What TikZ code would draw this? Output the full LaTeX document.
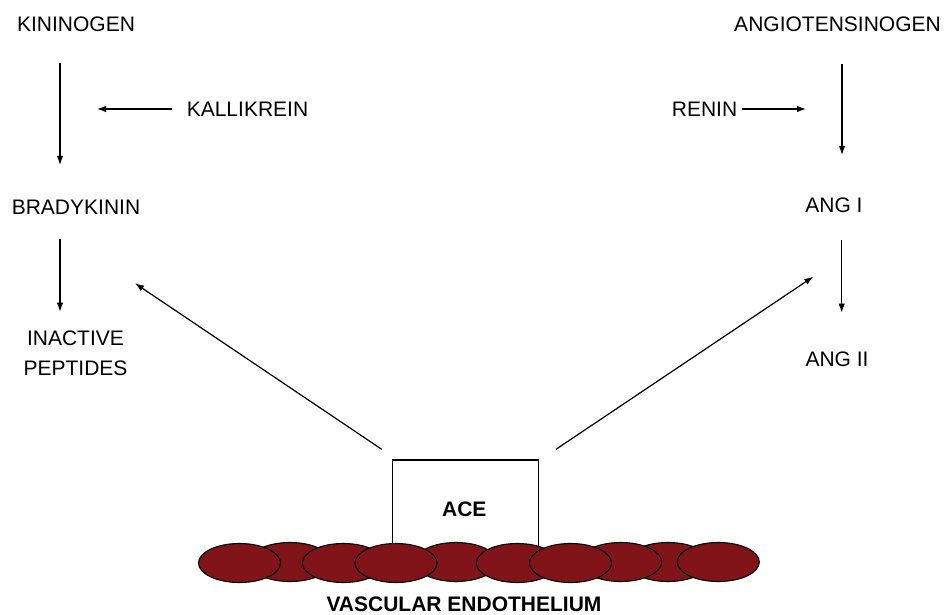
\documentclass[tikz,border=0pt]{standalone}
\usepackage{fontspec}
\setmainfont{Liberation Sans}
\usetikzlibrary{arrows.meta,shapes.geometric}
\definecolor{cellred}{RGB}{128,20,24}
\begin{document}
\begin{tikzpicture}[x=1pt,y=-1pt,
  lbl/.style={anchor=base,inner sep=0pt,font=\fontsize{21}{24}\selectfont},
  blbl/.style={lbl,font=\fontsize{21}{24}\selectfont\bfseries},
  arr/.style={line width=1.2pt,-{Latex[length=9pt,width=6.5pt]}},
  cell/.style={ellipse,draw=black,line width=1.1pt,fill=cellred,minimum width=82pt,minimum height=39pt,inner sep=0pt}]
\useasboundingbox (0,0) rectangle (945,615);
% texts
\node[lbl] (kin) at (76,32) {KININOGEN};
\node[lbl] (kal) at (247.5,116.7) {KALLIKREIN};
\node[lbl] (brady) at (76,214.3) {BRADYKININ};
\node[lbl] (inact) at (75.5,345) {INACTIVE};
\node[lbl] (pept) at (75.5,375.7) {PEPTIDES};
\node[lbl] (ango) at (837.5,32) {ANGIOTENSINOGEN};
\node[lbl] (renin) at (704.5,116.7) {RENIN};
\node[lbl] (ang1) at (834,212.7) {ANG I};
\node[lbl] (ang2) at (837,366.7) {ANG II};
% ACE box
\node[draw=black,line width=1.2pt,minimum width=146pt,minimum height=100pt,anchor=north west,inner sep=0pt] (ace) at (391.7,459.3) {};
\node[blbl] (acet) at (464.3,516) {ACE};
% endothelium cells (back row first)
\node[cell] (c2) at (290,562) {};
\node[cell] (c5) at (456,562) {};
\node[cell] (c9) at (668,562) {};
\node[cell] (c8) at (620.7,562) {};
\node[cell] (c1) at (239.5,563) {};
\node[cell] (c3) at (343.3,563) {};
\node[cell] (c4) at (396,563) {};
\node[cell] (c6) at (517.3,563) {};
\node[cell] (c7) at (570.5,563) {};
\node[cell] (c10) at (718.3,562) {};
\node[blbl] (vasc) at (464,611) {VASCULAR ENDOTHELIUM};
% connector end points
\coordinate (k1) at (60,63);   \coordinate (k2) at (60,165);
\coordinate (ka1) at (172,109); \coordinate (ka2) at (97,109);
\coordinate (b1) at (60,239.3); \coordinate (b2) at (60,311.7);
\coordinate (a1) at (842,64);  \coordinate (a2) at (842,155);
\coordinate (r1) at (742,109); \coordinate (r2) at (806,109);
\coordinate (g1) at (841.7,240); \coordinate (g2) at (841.7,312.7);
\coordinate (l1) at (381.7,449.3); \coordinate (l2) at (135,283.3);
\coordinate (q1) at (556,449.3); \coordinate (q2) at (813.3,276.7);
\draw[arr] (k1) -- (k2);
\draw[arr] (ka1) -- (ka2);
\draw[arr] (b1) -- (b2);
\draw[arr] (a1) -- (a2);
\draw[arr] (r1) -- (r2);
\draw[arr] (g1) -- (g2);
\draw[arr] (l1) -- (l2);
\draw[arr] (q1) -- (q2);
\end{tikzpicture}
\end{document}
